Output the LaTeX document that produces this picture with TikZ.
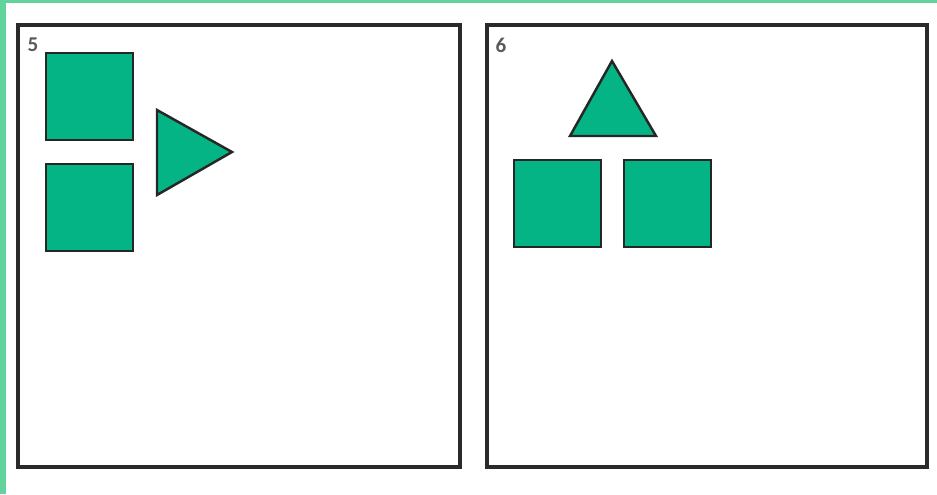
\documentclass[tikz,border=0pt]{standalone}
\usepackage{fontspec}
\setmainfont{Carlito}
\usepackage{xcolor}
\usepackage{tikz}
\definecolor{bordo}{HTML}{62D39A}
\definecolor{verde}{HTML}{05B484}
\definecolor{grigio}{HTML}{5A5A5A}
\definecolor{cornice}{HTML}{2A2A2A}

\begin{document}
\begin{tikzpicture}[x=0.02cm, y=-0.02cm,
    pannello/.style={draw=cornice, line width=1.9pt},
    forma/.style={draw=black!85, fill=verde, line width=1.4pt, line join=miter},
    numero/.style={text=grigio, font=\large\bfseries, inner sep=0pt}]
        \useasboundingbox (0,0) rectangle (937,494);
        % Bordo verde
        \fill[bordo] (0,0) rectangle (6,494);
        \fill[bordo] (0,0) rectangle (937,2.5);
        % Riquadri
        \draw[pannello] (18,25) rectangle (460,467);
        \draw[pannello] (487,25) rectangle (927,467);
        \node[numero] (n5) at (33,45) {5};
        \node[numero] (n6) at (501,45) {6};
        % Figura 5
        \draw[forma] (46,53) rectangle (133,140);
        \draw[forma] (46,164) rectangle (133,251);
        \draw[forma] (157,110) -- (232,152) -- (157,195) -- cycle;
        % Figura 6
        \draw[forma] (612,61) -- (656,136) -- (570,136) -- cycle;
        \draw[forma] (514,160) rectangle (601,247);
        \draw[forma] (624,160) rectangle (711,247);
    \end{tikzpicture}
\end{document}
